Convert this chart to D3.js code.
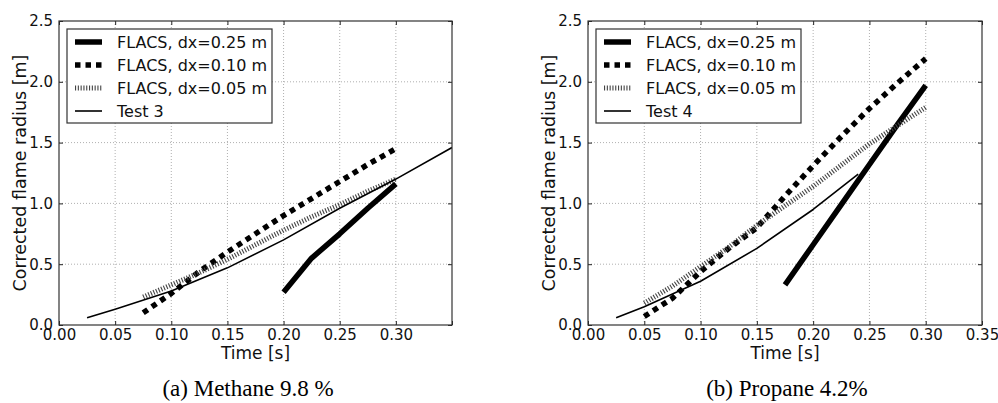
<!DOCTYPE html>
<html>
<head>
<meta charset="utf-8">
<script src="https://cdn.jsdelivr.net/npm/d3@7"></script>
<style>
  html, body { margin: 0; padding: 0; background: #fff; }
  svg text { font-family: "DejaVu Sans", sans-serif; }
</style>
</head>
<body>
<div id="fig"></div>
<script>
/* DATA ############################################################ */

// (a) Methane 9.8 %
const methT25 = [0.200, 0.225, 0.250, 0.275, 0.300];
const methR25 = [0.27, 0.55, 0.75, 0.96, 1.16];
const methT10 = [0.075, 0.100, 0.125, 0.150, 0.175, 0.200, 0.225, 0.250, 0.275, 0.300];
const methR10 = [0.10, 0.26, 0.44, 0.60, 0.75, 0.90, 1.04, 1.18, 1.32, 1.45];
const methT05 = [0.075, 0.100, 0.125, 0.150, 0.175, 0.200, 0.225, 0.250, 0.275, 0.300];
const methR05 = [0.23, 0.33, 0.43, 0.54, 0.66, 0.78, 0.89, 0.99, 1.10, 1.20];
const test3T = [0.025, 0.050, 0.100, 0.150, 0.200, 0.250, 0.300, 0.350];
const test3R = [0.06, 0.13, 0.28, 0.47, 0.70, 0.96, 1.20, 1.46];

// (b) Propane 4.2%
const propT25 = [0.175, 0.200, 0.225, 0.250, 0.275, 0.300];
const propR25 = [0.33, 0.66, 0.99, 1.32, 1.65, 1.97];
const propT10 = [0.050, 0.075, 0.100, 0.125, 0.150, 0.175, 0.200, 0.225, 0.250, 0.275, 0.300];
const propR10 = [0.07, 0.22, 0.44, 0.63, 0.80, 1.06, 1.31, 1.55, 1.78, 1.99, 2.19];
const propT05 = [0.050, 0.075, 0.100, 0.125, 0.150, 0.200, 0.250, 0.300];
const propR05 = [0.18, 0.32, 0.48, 0.64, 0.82, 1.14, 1.49, 1.79];
const test4T = [0.025, 0.050, 0.100, 0.150, 0.200, 0.240];
const test4R = [0.06, 0.15, 0.36, 0.63, 0.95, 1.24];

// ticks and labels
const xTicks = [0, 0.05, 0.10, 0.15, 0.20, 0.25, 0.30, 0.35];
const yTicks = [0, 0.5, 1.0, 1.5, 2.0, 2.5];
const seriesNames = ["FLACS, dx=0.25 m", "FLACS, dx=0.10 m", "FLACS, dx=0.05 m"];
const yTitle = "Corrected flame radius [m]";
const xTitle = "Time [s]";

/* CONSTANTS ####################################################### */
const width = 998;
const height = 403;

// line styles for the 4 series (matplotlib look)
const styles = [
  { width: 5.5, dash: null, color: "#000" },
  { width: 5.5, dash: "5.5,5", color: "#000" },
  { width: 5, dash: "1.1,1.7", color: "#444" },
  { width: 1.6, dash: null, color: "#000" }
];

const svg = d3.select("#fig")
  .append("svg")
  .attr("width", width)
  .attr("height", height);

const zip = (ts, rs) => ts.map((t, i) => ({ t: t, r: rs[i] }));

// PANEL ############################################################
function drawPanel(p) {
  const xScale = d3.scaleLinear().domain([0, 0.35]).range([p.left, p.right]);
  const yScale = d3.scaleLinear().domain([0, 2.5]).range([p.bottom, p.top]);

  const g = svg.append("g");

  // grid
  g.selectAll(".gx")
    .data(xTicks.filter(d => d > 0 && d < 0.35))
    .join("line")
      .attr("x1", d => xScale(d)).attr("x2", d => xScale(d))
      .attr("y1", p.top).attr("y2", p.bottom)
      .attr("stroke", "#9a9a9a").attr("stroke-width", 0.8)
      .attr("stroke-dasharray", "1,2");
  g.selectAll(".gy")
    .data(yTicks.filter(d => d > 0 && d < 2.5))
    .join("line")
      .attr("x1", p.left).attr("x2", p.right)
      .attr("y1", d => yScale(d)).attr("y2", d => yScale(d))
      .attr("stroke", "#9a9a9a").attr("stroke-width", 0.8)
      .attr("stroke-dasharray", "1,2");

  // axes: inward ticks on all four sides
  const tickFmtX = d => p.xLabels.includes(d) ? d3.format(".2f")(d) : "";
  const axB = g.append("g").attr("transform", `translate(0,${p.bottom})`)
    .call(d3.axisBottom(xScale).tickValues(xTicks).tickSizeInner(-4).tickSizeOuter(0).tickPadding(6).tickFormat(tickFmtX));
  const axT = g.append("g").attr("transform", `translate(0,${p.top})`)
    .call(d3.axisTop(xScale).tickValues(xTicks).tickSizeInner(-4).tickSizeOuter(0).tickFormat(""));
  const axL = g.append("g").attr("transform", `translate(${p.left},0)`)
    .call(d3.axisLeft(yScale).tickValues(yTicks).tickSizeInner(-4).tickSizeOuter(0).tickPadding(6).tickFormat(d3.format(".1f")));
  const axR = g.append("g").attr("transform", `translate(${p.right},0)`)
    .call(d3.axisRight(yScale).tickValues(yTicks).tickSizeInner(-4).tickSizeOuter(0).tickFormat(""));

  [axB, axT, axL, axR].forEach(a => {
    a.select(".domain").remove();
    a.selectAll("line").attr("stroke", "#222");
    a.selectAll("text").attr("fill", "#111").style("font-size", "15px")
      .style("font-family", "DejaVu Sans, sans-serif");
  });
  axB.selectAll("text").attr("dy", "0.6em");

  // lines
  const line = d3.line().x(d => xScale(d.t)).y(d => yScale(d.r));
  const clipId = "clip" + p.id;
  svg.append("clipPath").attr("id", clipId).append("rect")
    .attr("x", p.left).attr("y", p.top)
    .attr("width", p.right - p.left).attr("height", p.bottom - p.top);

  g.append("g").attr("clip-path", `url(#${clipId})`)
    .selectAll("path")
    .data(p.series)
    .join("path")
      .attr("d", d => line(d))
      .attr("fill", "none")
      .attr("stroke", (d, i) => styles[i].color)
      .attr("stroke-width", (d, i) => styles[i].width)
      .attr("stroke-dasharray", (d, i) => styles[i].dash)
      .attr("stroke-linejoin", "round");

  // frame
  g.append("rect")
    .attr("x", p.left).attr("y", p.top)
    .attr("width", p.right - p.left).attr("height", p.bottom - p.top)
    .attr("fill", "none").attr("stroke", "#333").attr("stroke-width", 1.2);

  // legend
  const lx = p.left + 8, ly = p.top + 8;
  const leg = g.append("g");
  leg.append("rect")
    .attr("x", lx).attr("y", ly).attr("width", 205).attr("height", 94)
    .attr("fill", "#fff").attr("stroke", "#333").attr("stroke-width", 1.2);
  const names = seriesNames.concat([p.testName]);
  names.forEach((name, i) => {
    const yy = ly + 13 + i * 23;
    leg.append("line")
      .attr("x1", lx + 8).attr("x2", lx + 35)
      .attr("y1", yy).attr("y2", yy)
      .attr("stroke", styles[i].color)
      .attr("stroke-width", styles[i].width)
      .attr("stroke-dasharray", styles[i].dash);
    leg.append("text")
      .attr("x", lx + 50).attr("y", yy + 6)
      .style("font-size", "16px")
      .attr("fill", "#111")
      .text(name);
  });

  // axis titles
  g.append("text")
    .attr("transform", `translate(${p.yTitleX},${(p.top + p.bottom) / 2}) rotate(-90)`)
    .attr("text-anchor", "middle")
    .style("font-size", "17.5px")
    .attr("fill", "#111")
    .text(yTitle);
  g.append("text")
    .attr("x", (p.left + p.right) / 2).attr("y", 359)
    .attr("text-anchor", "middle")
    .style("font-size", "17px")
    .attr("fill", "#111")
    .text(xTitle);

  // caption
  g.append("text")
    .attr("x", p.captionX).attr("y", 396)
    .attr("text-anchor", "middle")
    .style("font-family", "Liberation Serif, Times New Roman, serif")
    .style("font-size", "23px")
    .attr("fill", "#000")
    .text(p.caption);
}

drawPanel({
  id: "a", left: 59, right: 452, top: 21, bottom: 325,
  yTitleX: 26, captionX: 248,
  xLabels: [0, 0.05, 0.10, 0.15, 0.20, 0.25, 0.30],
  testName: "Test 3", caption: "(a)  Methane 9.8 %",
  series: [zip(methT25, methR25), zip(methT10, methR10), zip(methT05, methR05), zip(test3T, test3R)]
});

drawPanel({
  id: "b", left: 588, right: 982, top: 21, bottom: 325,
  yTitleX: 555, captionX: 787,
  xLabels: xTicks,
  testName: "Test 4", caption: "(b)  Propane 4.2%",
  series: [zip(propT25, propR25), zip(propT10, propR10), zip(propT05, propR05), zip(test4T, test4R)]
});
</script>
</body>
</html>
